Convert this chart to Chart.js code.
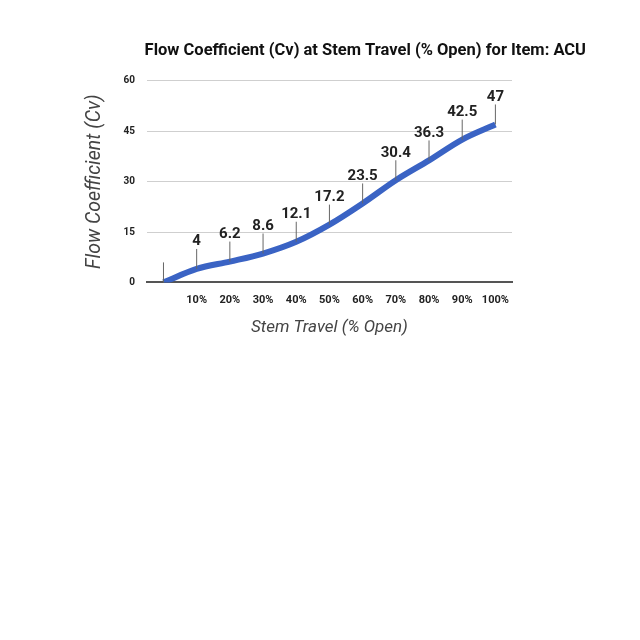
<!DOCTYPE html>
<html>
<head>
<meta charset="utf-8">
<script src="https://cdn.jsdelivr.net/npm/chart.js@4.4.0/dist/chart.umd.min.js"></script>
<style>
  html, body { margin: 0; padding: 0; background: #fff; overflow: hidden; }
  #wrap { position: absolute; left: 0; top: 0; width: 590px; height: 346px; }
</style>
</head>
<body>
<div id="wrap"><canvas id="cv"></canvas></div>
<script>
// stem travel categories (first point is 0% with no label)
var travel = ['', '10%', '20%', '30%', '40%', '50%', '60%', '70%', '80%', '90%', '100%'];
var cvValues = [0, 4, 6.2, 8.6, 12.1, 17.2, 23.5, 30.4, 36.3, 42.5, 47];
var pointLabels = ['', '4', '6.2', '8.6', '12.1', '17.2', '23.5', '30.4', '36.3', '42.5', '47'];

// draws the little stem + value above each point
var stemLabels = {
    id: 'stemLabels',
    afterDatasetsDraw: function (chart) {
        var ctx = chart.ctx;
        var meta = chart.getDatasetMeta(0);
        ctx.save();
        ctx.strokeStyle = '#666';
        ctx.lineWidth = 1;
        ctx.fillStyle = '#222';
        ctx.font = 'bold 15px Roboto';
        ctx.textAlign = 'center';
        ctx.textBaseline = 'bottom';
        for (let i = 0; i < meta.data.length; i++) {
            var p = meta.data[i];
            ctx.beginPath();
            ctx.moveTo(p.x, p.y);
            ctx.lineTo(p.x, p.y - 20);
            ctx.stroke();
            if (pointLabels[i] !== '') {
                ctx.fillText(pointLabels[i], p.x, p.y - 20);
            }
        }
        ctx.restore();
    }
};

var ctx = document.getElementById('cv').getContext('2d');
var chart = new Chart(ctx, {
    type: 'line',
    data: {
        labels: travel,
        datasets: [{
            label: 'Cv',
            data: cvValues,
            borderColor: '#3a63c4',
            borderWidth: 6,
            pointRadius: 0,
            tension: 0.4,
            cubicInterpolationMode: 'monotone',
            fill: false
        }]
    },
    options: {
        responsive: true,
        maintainAspectRatio: false,
        animation: false,
        layout: {
            padding: { left: 83, right: 4, top: 0, bottom: 8 }
        },
        scales: {
            x: {
                offset: true,
                grid: { display: false, drawTicks: false },
                border: { display: true, color: '#555', width: 2 },
                ticks: {
                    color: '#222',
                    font: { family: 'Roboto', size: 11, weight: 'bold' },
                    padding: 11,
                    maxRotation: 0,
                    autoSkip: false
                },
                title: {
                    display: true,
                    text: 'Stem Travel (% Open)',
                    color: '#444',
                    font: { family: 'Roboto', size: 17, style: 'italic' },
                    padding: { top: 0, bottom: 0 }
                }
            },
            y: {
                min: 0,
                max: 60,
                grid: { color: '#cfcfcf', drawTicks: false },
                border: { display: false },
                ticks: {
                    stepSize: 15,
                    color: '#222',
                    font: { family: 'Roboto', size: 10, weight: 'bold' },
                    padding: 12
                },
                title: {
                    display: true,
                    text: 'Flow Coefficient (Cv)',
                    color: '#444',
                    font: { family: 'Roboto', size: 19.5, style: 'italic' },
                    padding: { top: 0, bottom: 5 }
                }
            },
            // empty right axis, only keeps space so the title can sit further right
            yRight: {
                position: 'right',
                min: 0,
                max: 60,
                grid: { display: false, drawTicks: false },
                border: { display: false },
                ticks: { display: false },
                afterFit: function (scale) { scale.width = 74; }
            }
        },
        plugins: {
            legend: { display: false },
            tooltip: { enabled: false },
            title: {
                display: true,
                text: 'Flow Coefficient (Cv) at Stem Travel (% Open) for Item: ACU',
                align: 'end',
                color: '#111',
                font: { family: 'Roboto', size: 16.5, weight: 'bold' },
                padding: { top: 41, bottom: 20 }
            }
        }
    },
    plugins: [stemLabels]
});
</script>
</body>
</html>
